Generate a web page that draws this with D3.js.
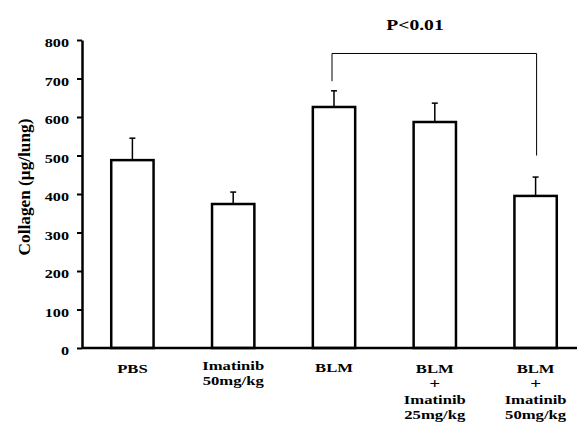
<!DOCTYPE html>
<html>
<head>
<meta charset="utf-8">
<script src="https://cdn.jsdelivr.net/npm/d3@7"></script>
<style>
  body { margin: 0; background: #fff; }
  text { font-family: "Liberation Serif", "DejaVu Serif", serif; font-weight: bold; fill: #000; }
</style>
</head>
<body>
<div id="chart"></div>
<script>
// Data
const groups = ["PBS", "Imatinib50", "BLM", "BLM+Im25", "BLM+Im50"];
const groupLabels = [
  ["PBS"],
  ["Imatinib", "50mg/kg"],
  ["BLM"],
  ["BLM", "+", "Imatinib", "25mg/kg"],
  ["BLM", "+", "Imatinib", "50mg/kg"]
];
const collagen = [488, 374, 626, 587, 395];
const errorTop = [545, 405, 668, 636, 444];
const yTicks = [0, 100, 200, 300, 400, 500, 600, 700, 800];

const W = 577, H = 427;
const svg = d3.select("#chart").append("svg")
  .attr("width", W)
  .attr("height", H);

// the scanned lettering is wider than Times, so stretch text horizontally
function addText(px, py, str, size, sx, anchor) {
  return svg.append("text")
    .attr("transform", `translate(${px},${py}) scale(${sx},1)`)
    .attr("text-anchor", anchor || "middle")
    .style("font-size", size + "px")
    .text(str);
}

// Scales
const x = d3.scaleBand()
  .domain(groups)
  .range([82, 586])
  .paddingInner(0.58)
  .paddingOuter(0.29);
const y = d3.scaleLinear()
  .domain([0, 800])
  .range([348, 40]);

// Bars
svg.selectAll("rect.bar")
  .data(groups)
  .enter().append("rect")
  .attr("class", "bar")
  .attr("x", d => x(d))
  .attr("y", (d, i) => y(collagen[i]))
  .attr("width", x.bandwidth())
  .attr("height", (d, i) => y(0) - y(collagen[i]))
  .style("fill", "#fff")
  .style("stroke", "#000")
  .style("stroke-width", 2.5);

// Error bars (upper only)
const err = svg.selectAll("g.err")
  .data(groups)
  .enter().append("g")
  .attr("class", "err");
err.append("line")
  .attr("x1", d => x(d) + x.bandwidth() / 2)
  .attr("x2", d => x(d) + x.bandwidth() / 2)
  .attr("y1", (d, i) => y(collagen[i]))
  .attr("y2", (d, i) => y(errorTop[i]))
  .style("stroke", "#000")
  .style("stroke-width", 1.5);
err.append("line")
  .attr("x1", d => x(d) + x.bandwidth() / 2 - 3)
  .attr("x2", d => x(d) + x.bandwidth() / 2 + 3)
  .attr("y1", (d, i) => y(errorTop[i]))
  .attr("y2", (d, i) => y(errorTop[i]))
  .style("stroke", "#000")
  .style("stroke-width", 1.5);

// Y axis
const tickSx = 1.35;
const yAxis = svg.append("g")
  .attr("transform", "translate(82,0)")
  .call(d3.axisLeft(y).tickValues(yTicks).tickSize(5).tickSizeOuter(0).tickFormat(d3.format("d")));
yAxis.select(".domain").style("stroke-width", 2.5);
yAxis.selectAll(".tick line").style("stroke-width", 2);
yAxis.selectAll(".tick text")
  .attr("x", -13 / tickSx)
  .attr("dy", "0.55em")
  .attr("transform", `scale(${tickSx},1)`)
  .style("font-size", "12px")
  .style("font-family", "'Liberation Serif', serif")
  .style("font-weight", "bold");

// X baseline
svg.append("line")
  .attr("x1", 82).attr("x2", W)
  .attr("y1", y(0)).attr("y2", y(0))
  .style("stroke", "#000")
  .style("stroke-width", 2.5);

// X labels (multi-line)
const lineY = [
  [373],
  [370, 385],
  [372],
  [373, 388, 404, 419],
  [373, 388, 404, 419]
];
groups.forEach((g, i) => {
  groupLabels[i].forEach((t, j) => {
    addText(x(g) + x.bandwidth() / 2, lineY[i][j], t, t === "+" ? 15 : 13, 1.28);
  });
});

// Y axis title
svg.append("text")
  .attr("transform", "translate(30,187) rotate(-90) scale(1.08,1)")
  .attr("text-anchor", "middle")
  .style("font-size", "16px")
  .text("Collagen (μg/lung)");

// Significance bracket between BLM and BLM + Imatinib 50
const bx1 = x("BLM") + x.bandwidth() / 2 - 2;
const bx2 = x("BLM+Im50") + x.bandwidth() / 2 + 1;
svg.append("path")
  .attr("d", `M${bx1},${y(693)}V${y(765)}H${bx2}V${y(500)}`)
  .style("fill", "none")
  .style("stroke", "#000")
  .style("stroke-width", 1);
addText(415, 30, "P<0.01", 14, 1.4);
</script>
</body>
</html>
